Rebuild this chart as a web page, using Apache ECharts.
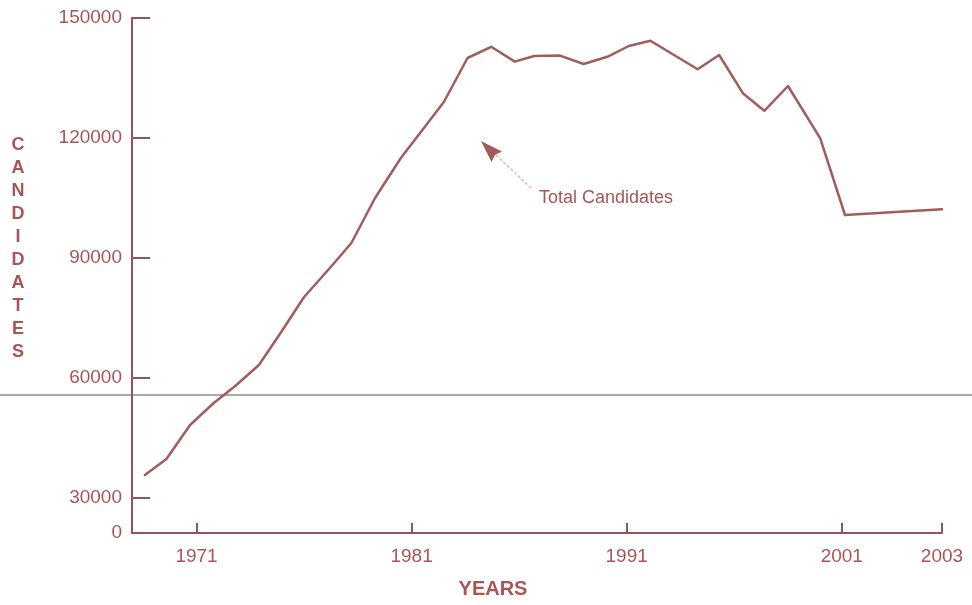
<!DOCTYPE html>
<html>
<head>
<meta charset="utf-8">
<title>Total Candidates</title>
<script src="https://cdn.jsdelivr.net/npm/echarts@6/dist/echarts.min.js"></script>
<style>
  html, body { margin: 0; padding: 0; background: #fff; }
  #main { width: 972px; height: 605px; }
</style>
</head>
<body>
<div id="main"></div>
<script>
// points (they fall between the year ticks)
const years = [1968.6, 1969.6, 1970.7, 1971.8, 1972.8, 1973.9, 1975.0, 1976.0, 1977.2, 1978.2,
  1979.3, 1980.5, 1981.5, 1982.5, 1983.6, 1984.7, 1985.8, 1986.7, 1987.9, 1989.0,
  1990.1, 1991.1, 1992.1, 1994.3, 1995.3, 1996.4, 1997.4, 1998.5, 2000.0, 2001.15];
const candidates = [35750, 39750, 48250, 53750, 58000, 63250, 72000, 80250, 87500, 93750,
  105000, 115000, 122000, 129000, 140000, 142800, 139100, 140500, 140600, 138500,
  140300, 143000, 144300, 137200, 140750, 131200, 126800, 133000, 119900, 100750];
// the 2001 -> 2003 stretch is drawn on a wider scale in the original
const tailYears = [2001.15, 2003];
const tailCandidates = [100750, 102200];

const xTicks = [1971, 1981, 1991, 2001];
const tailTicks = [2003];
const yTicks = [30000, 60000, 90000, 120000, 150000];
const yBottom = 21250; // bottom of the axis, labelled "0" in the original

const red = '#a35c5c';
const axisColor = '#94545a';
const textColor = '#aa5555';
const font = 'Liberation Sans, Arial, sans-serif';

const chart = echarts.init(document.getElementById('main'));

const option = {
  backgroundColor: '#fff',
  animation: false,
  grid: [
    { left: 132, right: 127, top: 18, bottom: 72 },
    { left: 845, right: 30, top: 18, bottom: 72 }
  ],
  xAxis: [
    {
      type: 'value', gridIndex: 0, min: 1968, max: 2001.15,
      splitLine: { show: false },
      axisLine: { lineStyle: { color: axisColor, width: 2 } },
      axisTick: { inside: true, length: 10, customValues: xTicks, lineStyle: { color: axisColor, width: 2 } },
      axisLabel: { customValues: xTicks, margin: 14, color: textColor, fontSize: 19, fontFamily: font, formatter: v => String(v) }
    },
    {
      type: 'value', gridIndex: 1, min: 2001.15, max: 2003,
      splitLine: { show: false },
      axisLine: { lineStyle: { color: axisColor, width: 2 } },
      axisTick: { inside: true, length: 10, customValues: tailTicks, lineStyle: { color: axisColor, width: 2 } },
      axisLabel: { customValues: tailTicks, margin: 14, color: textColor, fontSize: 19, fontFamily: font, formatter: v => String(v) }
    }
  ],
  yAxis: [
    {
      type: 'value', gridIndex: 0, min: yBottom, max: 150000,
      splitLine: { show: false },
      axisLine: { show: true, lineStyle: { color: axisColor, width: 2 } },
      axisTick: { show: true, inside: true, length: 18, customValues: yTicks, lineStyle: { color: axisColor, width: 2 } },
      axisLabel: {
        customValues: [yBottom].concat(yTicks), margin: 10,
        color: textColor, fontSize: 19, fontFamily: font,
        formatter: v => (v < 30000 ? '0' : String(v))
      }
    },
    {
      type: 'value', gridIndex: 1, min: yBottom, max: 150000, show: false
    }
  ],
  series: [
    {
      name: 'Total Candidates', type: 'line', xAxisIndex: 0, yAxisIndex: 0,
      showSymbol: false, z: 5,
      lineStyle: { color: red, width: 2.5, cap: 'round', join: 'round' },
      data: years.map((y, i) => [y, candidates[i]])
    },
    {
      name: 'Total Candidates (tail)', type: 'line', xAxisIndex: 1, yAxisIndex: 1,
      showSymbol: false, z: 5,
      lineStyle: { color: red, width: 2.5, cap: 'round', join: 'round' },
      data: tailYears.map((y, i) => [y, tailCandidates[i]])
    }
  ],
  graphic: [
    // faint fold line across the scan
    { type: 'line', z: 0, shape: { x1: 0, y1: 395, x2: 972, y2: 395 }, style: { stroke: '#8c8c8c', lineWidth: 1.5 } },
    {
      type: 'text', x: 18, y: 134,
      style: {
        text: 'C\nA\nN\nD\nI\nD\nA\nT\nE\nS', lineHeight: 23,
        font: 'bold 18px ' + font, fill: textColor, align: 'center', verticalAlign: 'top'
      }
    },
    {
      type: 'text', x: 493, y: 589,
      style: { text: 'YEARS', font: 'bold 20px ' + font, fill: textColor, align: 'center', verticalAlign: 'middle' }
    },
    {
      type: 'text', x: 539, y: 198,
      style: { text: 'Total Candidates', font: '18px ' + font, fill: textColor, align: 'left', verticalAlign: 'middle' }
    },
    {
      type: 'line', shape: { x1: 531, y1: 188, x2: 496, y2: 155 },
      style: { stroke: '#c4c4c4', lineWidth: 1.5, lineDash: [3, 2] }
    },
    {
      type: 'polygon',
      shape: { points: [[481, 141], [491.5, 162], [495, 155], [502, 151.5]] },
      style: { fill: red }
    }
  ]
};

chart.setOption(option);
</script>
</body>
</html>
